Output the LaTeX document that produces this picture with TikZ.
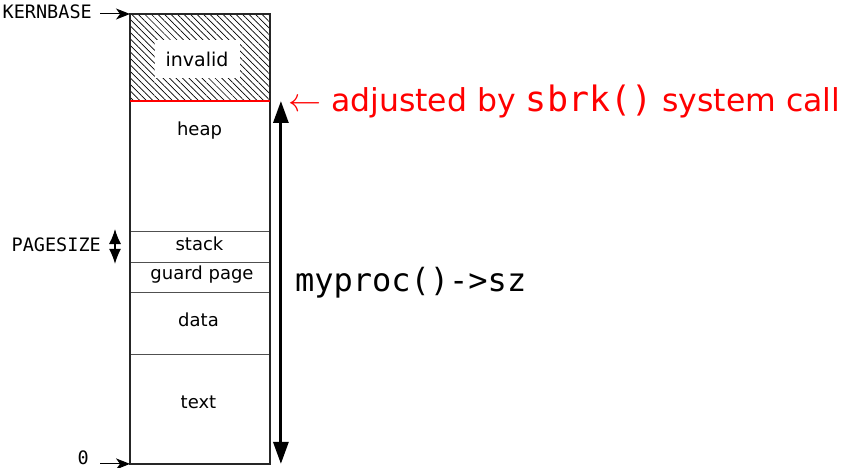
\documentclass[tikz,border=0pt]{standalone}
\usepackage{fontspec}
\setmainfont{DejaVu Sans}
\setmonofont{DejaVu Sans Mono}
\usetikzlibrary{positioning,calc,arrows.meta,patterns.meta}
\definecolor{SbrkRed}{RGB}{255,0,0}
\definecolor{CellGray}{RGB}{80,80,80}
\tikzset{
    memcell/.style={rectangle, draw=CellGray, line width=0.9pt, minimum width=139pt, inner sep=0pt, anchor=north west},
    celllabel/.style={inner sep=0pt, font=\fontsize{18}{20}\selectfont},
    addrlabel/.style={font=\ttfamily\fontsize{18.5}{20}\selectfont, inner sep=0pt},
    addrarrow/.style={draw=black, line width=1pt, -{Stealth[length=14pt,width=11pt,inset=4pt]}}
}

\begin{document}
\begin{tikzpicture}[
                x=1pt, y=-1pt,
                % Style cho mũi tên kích thước trang
                pagearrow/.style={
                    draw=black,
                    line width=1.2pt,
                    {Latex[length=15pt,width=12pt]}-{Latex[length=15pt,width=12pt]}
                },
                szarrow/.style={
                    draw=black,
                    line width=3pt,
                    {Triangle[length=22pt,width=15pt]}-{Triangle[length=22pt,width=15pt]}
                }
            ]
                \useasboundingbox (0,0) rectangle (848,468);

                % 1. CÁC VÙNG BỘ NHỚ
                \node[memcell, minimum height=87pt,
                      pattern={Lines[angle=-45,distance=4.6pt,line width=0.7pt]}] (invalid) at (130,14) {};
                \node[fill=white, minimum width=85pt, minimum height=38pt, inner sep=0pt,
                      font=\fontsize{19}{20}\selectfont] (invlabel) at (197,59) {invalid};
                \node[memcell, minimum height=130pt] (heap) at (130,101) {};
                \node[memcell, minimum height=31pt] (stack) at (130,231) {};
                \node[memcell, minimum height=30pt] (guard) at (130,262) {};
                \node[memcell, minimum height=62pt] (data) at (130,292) {};
                \node[memcell, minimum height=109pt] (text) at (130,354) {};
                \node[celllabel] (heaplabel) at (199.5,131) {heap};
                \node[celllabel] (stacklabel) at (199.5,244) {stack};
                \node[celllabel] (guardlabel) at (202,275) {guard page};
                \node[celllabel] (datalabel) at (198.5,320) {data};
                \node[celllabel] (textlabel) at (198.5,402) {text};

                % khung ngoài và đường sbrk
                \draw[line width=1.3pt, draw=black!85] (invalid.north west) rectangle (text.south east);
                \draw[SbrkRed, line width=2pt] (heap.north west) -- (heap.north east);

                % 2. NHÃN ĐỊA CHỈ
                \node[addrlabel, anchor=east] (kernbase) at ($(invalid.north west)+(-38,-2)$) {KERNBASE};
                \draw[addrarrow] ($(kernbase.east |- invalid.north west)+(8,0)$) -- (invalid.north west);
                \node[addrlabel, anchor=south east] (zero) at ($(text.south west)+(-41,1)$) {0};
                \draw[addrarrow] ($(zero.south east)+(11,-1)$) -- (text.south west);
                \node[addrlabel, anchor=east] (pagesize) at ($(stack.west)+(-29,-2)$) {PAGESIZE};
                \draw[pagearrow] ($(stack.north west)+(-15,-2)$) -- ($(stack.south west)+(-15,1)$);

                % 3. KÍCH THƯỚC TIẾN TRÌNH
                \coordinate (sztop) at ($(heap.north east)+(11,0)$);
                \coordinate (szbot) at ($(text.south east)+(11,0)$);
                \draw[szarrow] (sztop) -- (szbot);
                \node[anchor=west, inner sep=0pt, font=\ttfamily\fontsize{32}{34}\selectfont] (szlabel)
                    at ($(sztop)!0.5!(szbot)+(14,0)$) {myproc()->sz};
                \node[anchor=west, inner sep=0pt, text=SbrkRed, font=\fontsize{31.5}{34}\selectfont] (sbrknote)
                    at ($(heap.north east)+(18,0)$) {\resizebox{33pt}{!}{$\leftarrow$} adjusted by {\ttfamily\fontsize{35}{36}\selectfont sbrk()} system call};

            \end{tikzpicture}
\end{document}
